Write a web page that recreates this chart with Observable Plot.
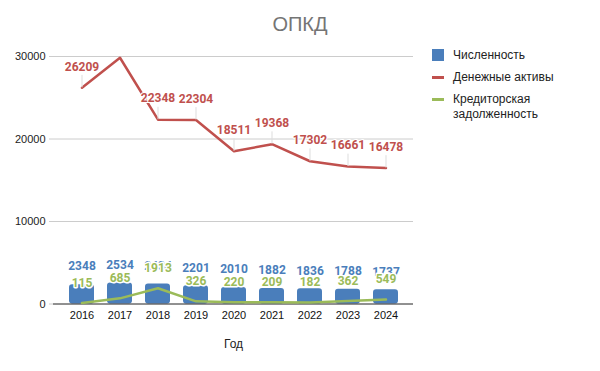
<!DOCTYPE html>
<html>
<head>
<meta charset="utf-8">
<script src="https://cdn.jsdelivr.net/npm/d3@7"></script>
<script src="https://cdn.jsdelivr.net/npm/@observablehq/plot@0.6"></script>
<style>
  body { margin: 0; background: #fff; font-family: "Liberation Sans", Arial, sans-serif; }
  #wrap { position: relative; width: 600px; height: 371px; overflow: hidden; }
  #title { position: absolute; left: 0; width: 600px; top: 13px; text-align: center; font-size: 20px; color: #757575; }
  #xtitle { position: absolute; left: 224px; top: 337px; font-size: 12px; color: #222; }
  #chart { position: absolute; left: 0; top: 0; }
  #legend { position: absolute; left: 432px; top: 48px; font-size: 12px; color: #222; }
  .li { position: relative; padding-left: 21px; line-height: 15px; margin-bottom: 7px; }
  .sw { position: absolute; left: 0; }
</style>
</head>
<body>
<div id="wrap">
  <div id="chart"></div>
  <div id="title">ОПКД</div>
  <div id="xtitle">Год</div>
  <div id="legend">
    <div class="li"><span class="sw" style="top:1px;width:12px;height:12px;background:#4a7ebb"></span>Численность</div>
    <div class="li"><span class="sw" style="top:6px;width:12px;height:3px;background:#c0504d"></span>Денежные активы</div>
    <div class="li"><span class="sw" style="top:6px;width:12px;height:3px;background:#9bbb59"></span>Кредиторская<br>задолженность</div>
  </div>
</div>
<script>
const years = ["2016","2017","2018","2019","2020","2021","2022","2023","2024"];
const headcount = [2348, 2534, 2434, 2201, 2010, 1882, 1836, 1788, 1737];
const cash = [26209, 29850, 22348, 22304, 18511, 19368, 17302, 16661, 16478];
const payables = [115, 685, 1913, 326, 220, 209, 182, 362, 549];
const cashLabelShown = [true, false, true, true, true, true, true, true, true];
const yTicks = [0, 10000, 20000, 30000];

const rows = years.map((y, i) => ({
  year: y, headcount: headcount[i], cash: cash[i], payables: payables[i], showCash: cashLabelShown[i]
}));

const blue = "#4a7ebb", red = "#c0504d", green = "#9bbb59";
const labelFont = "Roboto, sans-serif";

const chart = Plot.plot({
  width: 420,
  height: 371,
  marginLeft: 53,
  marginRight: 7,
  marginTop: 56,
  marginBottom: 67.5,
  style: { fontFamily: "Liberation Sans, Arial, sans-serif", fontSize: "11px", color: "#222", background: "transparent" },
  x: { type: "band", domain: years, paddingInner: 0.35, paddingOuter: 0.35, label: null },
  y: { domain: [0, 30000], label: null },
  marks: [
    Plot.gridY(yTicks.filter(d => d > 0), { stroke: "#cccccc", strokeOpacity: 1 }),
    Plot.axisY(yTicks, { tickSize: 4, tickPadding: 4, stroke: "#cccccc", tickFormat: d => String(d), fill: "#222", fontSize: 11 }),
    Plot.axisX({ tickSize: 0, tickPadding: 7, fontSize: 11, fill: "#111" }),
    Plot.barY(rows, { x: "year", y: "headcount", fill: blue, rx: 3 }),
    Plot.ruleY([0], { stroke: "#222", strokeWidth: 1 }),
    Plot.lineY(rows, { x: "year", y: "cash", stroke: red, strokeWidth: 2.5 }),
    Plot.lineY(rows, { x: "year", y: "payables", stroke: green, strokeWidth: 2.5 }),
    Plot.ruleX(rows.filter(d => d.showCash), { x: "year", y1: "cash", y2: d => d.cash + 1500, stroke: "#dddddd", strokeWidth: 1 }),
    Plot.text(rows.filter(d => d.showCash), { x: "year", y: "cash", text: d => String(d.cash), dy: -21, fill: red, fontWeight: "bold", fontSize: 12, fontFamily: labelFont, stroke: "white", strokeWidth: 2, paintOrder: "stroke" }),
    Plot.text(rows, { x: "year", y: "headcount", text: d => String(d.headcount), dy: -18, fill: blue, fontWeight: "bold", fontSize: 12, fontFamily: labelFont, stroke: "white", strokeWidth: 2, paintOrder: "stroke" }),
    Plot.text(rows, { x: "year", y: "payables", text: d => String(d.payables), dy: -20, fill: green, fontWeight: "bold", fontSize: 12, fontFamily: labelFont, stroke: "white", strokeWidth: 3, paintOrder: "stroke" })
  ]
});
document.getElementById("chart").appendChild(chart);
</script>
</body>
</html>
